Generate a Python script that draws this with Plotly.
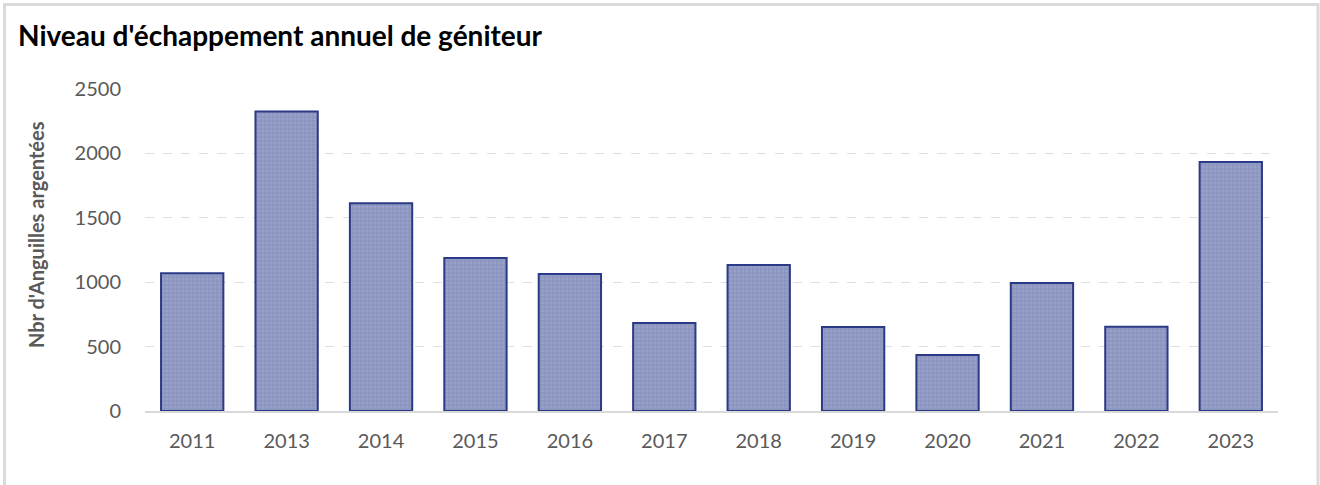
import plotly.graph_objects as go

years = ["2011", "2013", "2014", "2015", "2016", "2017", "2018", "2019", "2020", "2021", "2022", "2023"]
values = [1070, 2325, 1612, 1188, 1063, 684, 1133, 652, 435, 994, 655, 1933]

title_text = "Niveau d'échappement annuel de géniteur"
y_title = "Nbr d'Anguilles argentées"
y_ticks = [0, 500, 1000, 1500, 2000, 2500]

W, H = 1320, 485
L, R, T, B = 145, 42, 89, 74
PW, PH = W - L - R, H - T - B

fig = go.Figure()
fig.add_trace(go.Bar(
    x=years, y=values,
    marker=dict(
        color="#8F98C2",
        line=dict(color="#2B3A86", width=2),
        pattern=dict(shape=".", size=4, solidity=0.35, fgcolor="#A4ABCF", bgcolor="#8D96C0"),
    ),
    width=0.66,
))

fig.update_layout(
    width=W, height=H,
    margin=dict(l=L, r=R, t=T, b=B),
    paper_bgcolor="white", plot_bgcolor="white",
    font=dict(family="Lato, Open Sans, sans-serif", color="#595959"),
    title=dict(text=title_text, x=18 / W, xanchor="left", y=1 - 36 / H, yanchor="middle",
               font=dict(size=28, color="black", family="Lato, Open Sans, sans-serif", weight="bold")),
    showlegend=False,
    bargap=0.34,
)
fig.update_xaxes(
    type="category", showline=True, linecolor="#D9D9D9", linewidth=1.5,
    tickfont=dict(size=20, color="#595959"), ticks="outside", ticklen=11, tickcolor="rgba(0,0,0,0)",
    showgrid=False,
)
fig.update_yaxes(
    range=[0, 2500], tickvals=y_ticks, showgrid=True, gridcolor="#DEDEDE",
    griddash="dash", gridwidth=1, zeroline=False,
    tickfont=dict(size=20, color="#595959"), ticks="outside", ticklen=19, tickcolor="rgba(0,0,0,0)",
)
fig.add_annotation(
    text="<b>" + y_title + "</b>", xref="paper", yref="paper",
    x=(36 - L) / PW, y=(T + PH - 235) / PH, xanchor="center", yanchor="middle",
    textangle=-90, showarrow=False, font=dict(size=20, color="#595959"),
)
fig.add_shape(type="rect", xref="paper", yref="paper",
              x0=(4.5 - L) / PW, x1=(1318 - L) / PW,
              y0=-(495 - (T + PH)) / PH, y1=1 + (T - 4.5) / PH,
              line=dict(color="#DADADA", width=3), fillcolor="rgba(0,0,0,0)", layer="below")

fig.write_html("out.html", config={"displayModeBar": False},
               post_script="document.body.style.margin='0';")
